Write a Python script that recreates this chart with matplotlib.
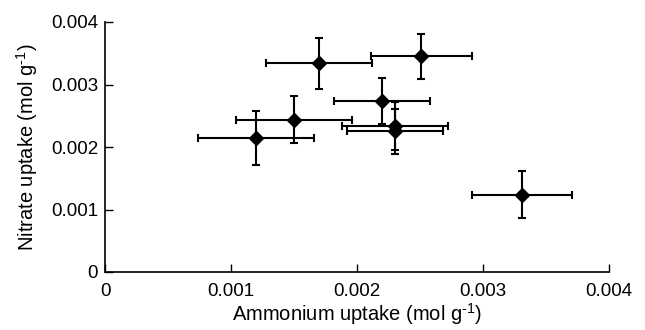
import matplotlib as mpl
mpl.use('agg')
import matplotlib.pyplot as plt

# ammonium uptake (x) and nitrate uptake (y), mol g-1, with error bars
ammonium = [0.00170, 0.00150, 0.00120, 0.00220, 0.00230, 0.00230, 0.00251, 0.00331]
ammonium_err = [0.00042, 0.00046, 0.00046, 0.00038, 0.00042, 0.00038, 0.00040, 0.00040]
nitrate = [0.00334, 0.00244, 0.00214, 0.00274, 0.00234, 0.00225, 0.00345, 0.00124]
nitrate_err = [0.00041, 0.00037, 0.00043, 0.00037, 0.00038, 0.00036, 0.00036, 0.00037]

xticks = [0, 0.001, 0.002, 0.003, 0.004]
yticks = [0, 0.001, 0.002, 0.003, 0.004]

plt.rcParams['font.family'] = ['Liberation Sans', 'DejaVu Sans']
plt.rcParams['mathtext.fontset'] = 'custom'
plt.rcParams['mathtext.rm'] = 'Liberation Sans'
plt.rcParams['mathtext.default'] = 'regular'

fig = plt.figure(figsize=(6.45, 3.3), dpi=100, facecolor='w')
ax = fig.add_axes([105/645., 1-272/330., 504/645., 250/330.])

ax.errorbar(ammonium, nitrate, xerr=ammonium_err, yerr=nitrate_err,
            fmt='D', color='black', markersize=7, elinewidth=1.5,
            capsize=3.2, capthick=1.5)

ax.set_xlim(0, 0.004)
ax.set_ylim(0, 0.004)
ax.set_xticks(xticks)
ax.set_yticks(yticks)
ax.set_xticklabels(['0', '0.001', '0.002', '0.003', '0.004'])
ax.set_yticklabels(['0', '0.001', '0.002', '0.003', '0.004'])

for s in ['top', 'right']:
    ax.spines[s].set_visible(False)
for s in ['left', 'bottom']:
    ax.spines[s].set_linewidth(1.2)

ax.tick_params(direction='in', length=6, width=1, labelsize=13.5)
ax.tick_params(axis='x', pad=8)
ax.tick_params(axis='y', pad=5)

ax.set_xlabel(r'Ammonium uptake (mol g$^{\text{-}1}$)', fontsize=14.5, labelpad=1)
ax.set_ylabel(r'Nitrate uptake (mol g$^{\text{-}1}$)', fontsize=14.5, labelpad=8)

plt.savefig('out.png', dpi=100)
